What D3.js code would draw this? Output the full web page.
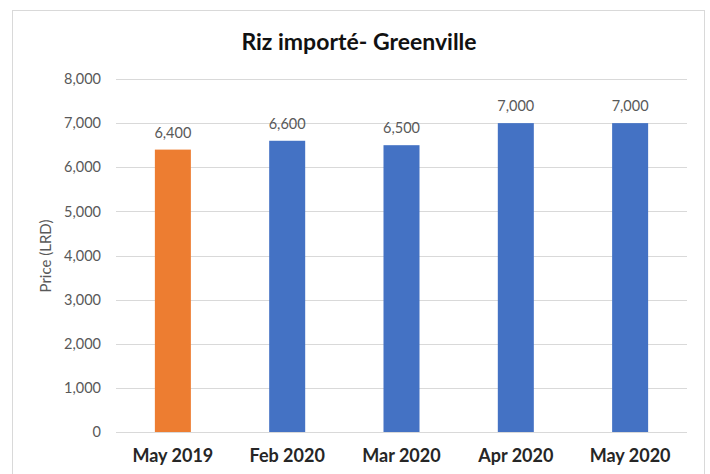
<!DOCTYPE html>
<html><head><meta charset="utf-8">
<script src="https://cdn.jsdelivr.net/npm/d3@7"></script>
<style>body{margin:0;background:#fff;font-family:Lato,"Open Sans",sans-serif;}</style>
</head><body><svg id="c" width="710" height="474"></svg>
<script>
const categories = ["May 2019","Feb 2020","Mar 2020","Apr 2020","May 2020"];
const values = [6400,6600,6500,7000,7000];
const barColors = ["#ED7D31","#4472C4","#4472C4","#4472C4","#4472C4"];
const yTicks = [0,1000,2000,3000,4000,5000,6000,7000,8000];
const title = "Riz importé- Greenville";
const yTitle = "Price (LRD)";

const svg = d3.select("#c");
svg.append("rect").attr("x",12.5).attr("y",10.5).attr("width",692).attr("height",480)
  .attr("fill","#fff").attr("stroke","#D9D9D9");
const m = {l:116, r:687, t:79, b:432};
const x = d3.scaleBand().domain(categories).range([m.l,m.r]).paddingInner(0.685).paddingOuter(0.34);
const y = d3.scaleLinear().domain([0,8000]).range([m.b,m.t]);

const fmt = d3.format(",");
const g = svg.append("g");
g.selectAll("line.grid").data(yTicks).join("line").attr("class","grid")
  .attr("x1",m.l).attr("x2",m.r).attr("y1",d=>Math.round(y(d))+0.5).attr("y2",d=>Math.round(y(d))+0.5)
  .attr("stroke","#D9D9D9").attr("stroke-width",1);

const ya = svg.append("g").attr("transform",`translate(${m.l},0)`)
  .call(d3.axisLeft(y).tickValues(yTicks).tickFormat(fmt).tickSize(0).tickPadding(15));
ya.select(".domain").remove();
ya.selectAll("text").attr("font-family","Lato, sans-serif").attr("font-size",14.5).attr("fill","#595959");

g.selectAll("rect.bar").data(values).join("rect").attr("class","bar")
  .attr("x",(d,i)=>x(categories[i])).attr("width",x.bandwidth())
  .attr("y",d=>y(d)).attr("height",d=>y(0)-y(d)).attr("fill",(d,i)=>barColors[i]);

g.selectAll("text.val").data(values).join("text").attr("class","val")
  .attr("x",(d,i)=>x(categories[i])+x.bandwidth()/2).attr("y",d=>y(d)-12)
  .attr("text-anchor","middle").attr("font-size",14.5).attr("fill","#595959").text(d=>fmt(d));

const xa = svg.append("g").attr("transform",`translate(0,${m.b})`)
  .call(d3.axisBottom(x).tickSize(0).tickPadding(17));
xa.select(".domain").remove();
xa.selectAll("text").attr("font-family","Lato, sans-serif").attr("font-size",18).attr("font-weight","bold").attr("fill","#262626");

svg.append("text").attr("x",359).attr("y",50).attr("text-anchor","middle")
  .attr("font-size",23).attr("font-weight","bold").attr("fill","#111").text(title);
svg.append("text").attr("transform",`translate(51,256) rotate(-90)`).attr("text-anchor","middle")
  .attr("font-size",15).attr("fill","#595959").text(yTitle);
</script></body></html>
